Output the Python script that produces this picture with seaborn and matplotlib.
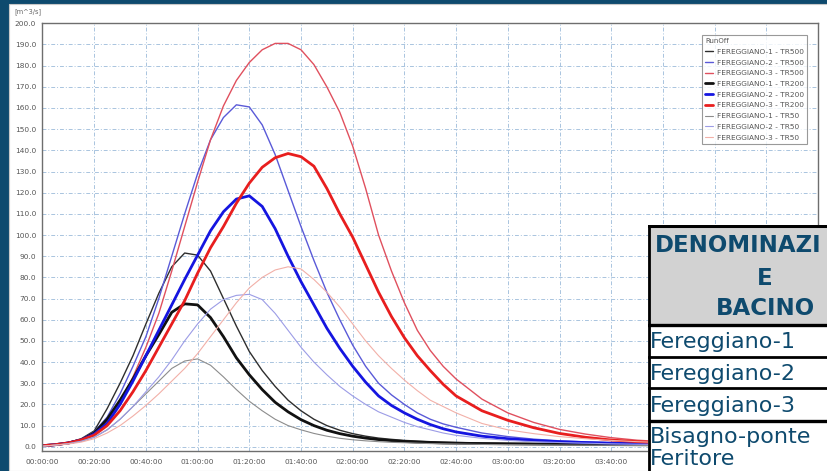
import matplotlib
matplotlib.use("Agg")
import matplotlib.pyplot as plt
from matplotlib.patches import Rectangle
from matplotlib.lines import Line2D
from matplotlib.ticker import MultipleLocator, FixedLocator, FuncFormatter
import seaborn as sns
import pandas as pd

# time axis in minutes
minutes = [0, 5, 10, 15, 20, 25, 30, 35, 40, 45, 50, 55, 60, 65, 70, 75, 80, 85, 90, 95,
           100, 105, 110, 115, 120, 125, 130, 135, 140, 145, 150, 155, 160,
           170, 180, 190, 200, 210, 220, 230, 240, 260, 280, 300]

# runoff [m3/s]
f1_tr500 = [0.5, 1.0, 2.0, 3.8, 7.5, 18, 30, 43, 58, 72.5, 85, 91.5, 90.5, 83, 70, 57, 45, 36, 28.5, 22,
            17, 13, 10, 7.8, 6.2, 5.0, 4.1, 3.5, 3.0, 2.7, 2.4, 2.2, 2.0,
            1.8, 1.6, 1.5, 1.4, 1.3, 1.2, 1.1, 1.0, 0.9, 0.8, 0.7]
f2_tr500 = [0.5, 1.0, 2.0, 3.6, 7, 14, 25, 38, 52, 70, 90, 110, 129, 145, 155.5, 161.5, 160.5, 152, 138, 121,
            104, 88, 73, 60, 48, 38, 30, 24.5, 20, 16, 13, 10.8, 9.2,
            6.5, 4.8, 3.6, 2.8, 2.3, 1.9, 1.6, 1.4, 1.1, 0.9, 0.7]
f3_tr500 = [0.5, 1.0, 2.0, 3.6, 6.5, 12, 21, 33, 47, 63, 83, 104, 125, 145, 161, 173, 181.5, 187.5, 190.5, 190.5,
            187.5, 180.5, 170, 158, 142, 122, 100, 83, 68, 55, 45.5, 38, 32,
            22.5, 16, 11.5, 8.2, 6, 4.3, 3.1, 2.4, 1.6, 1.1, 0.8]
f1_tr200 = [0.5, 1.0, 1.8, 3.2, 6.5, 13, 22, 32, 43, 53, 63.5, 67.5, 67, 61, 52, 42, 34, 27, 21, 16.5,
            12.8, 10, 7.8, 6.2, 5.0, 4.1, 3.4, 2.9, 2.5, 2.2, 2.0, 1.8, 1.7,
            1.5, 1.4, 1.3, 1.2, 1.1, 1.0, 0.95, 0.9, 0.8, 0.7, 0.6]
f2_tr200 = [0.5, 1.0, 1.8, 3.2, 6, 11, 20, 31, 43, 55, 67, 79, 90.5, 102, 111, 117, 118.5, 113.5, 103, 90,
            78, 67, 56, 46.5, 38, 30.5, 24, 19.5, 16, 13, 10.5, 8.5, 7,
            5, 3.8, 3, 2.4, 2, 1.7, 1.5, 1.3, 1, 0.8, 0.7]
f3_tr200 = [0.5, 1.0, 1.8, 3.2, 5.5, 10, 17, 26, 36, 47, 58, 69, 82, 94, 104, 115, 124.5, 132, 136.5, 138.5,
            137, 132.5, 122, 110, 99, 86, 73, 61.5, 51.5, 43, 36, 29.5, 24,
            17, 12.5, 9, 6.3, 4.5, 3.2, 2.4, 1.8, 1.2, 0.8, 0.6]
f1_tr50 = [0.3, 0.8, 1.5, 2.6, 4.5, 8, 13, 19, 25, 31, 37, 40.5, 41.5, 38.5, 33, 27, 21.5, 17, 13, 10,
           8, 6.3, 5, 4, 3.3, 2.8, 2.4, 2.1, 1.9, 1.7, 1.5, 1.4, 1.3,
           1.1, 1.0, 0.9, 0.8, 0.75, 0.7, 0.65, 0.6, 0.5, 0.45, 0.4]
f2_tr50 = [0.3, 0.8, 1.5, 2.6, 4.5, 8, 13, 19, 26, 33, 41, 50, 58, 65, 69.5, 71.5, 72, 69.5, 63, 55,
           47, 40, 34, 28.5, 24, 20, 16.5, 14, 11.5, 9.5, 8, 6.5, 5.4,
           4, 3, 2.4, 2, 1.7, 1.4, 1.2, 1.1, 0.9, 0.7, 0.6]
f3_tr50 = [0.3, 0.8, 1.3, 2.2, 3.8, 6.5, 10, 14.5, 19.5, 25, 31, 37, 44, 52, 60, 68, 75, 80, 83.5, 85,
           84, 79, 73, 66, 58, 50, 43, 37, 31.5, 26.5, 22, 19, 16,
           11, 8, 6.2, 4.8, 3.8, 3, 2.4, 2, 1.4, 1, 0.8]

labels = ["FEREGGIANO-1 - TR500", "FEREGGIANO-2 - TR500", "FEREGGIANO-3 - TR500",
          "FEREGGIANO-1 - TR200", "FEREGGIANO-2 - TR200", "FEREGGIANO-3 - TR200",
          "FEREGGIANO-1 - TR50", "FEREGGIANO-2 - TR50", "FEREGGIANO-3 - TR50"]
series = [f1_tr500, f2_tr500, f3_tr500, f1_tr200, f2_tr200, f3_tr200, f1_tr50, f2_tr50, f3_tr50]
colors = ["#2e2e2e", "#5a5ad8", "#e0505e",
          "#111111", "#1515e0", "#e81e1e",
          "#8c8c8c", "#9c9ce6", "#f2b0a8"]
widths = [1.0, 1.0, 1.0, 2.0, 2.0, 2.0, 0.8, 0.8, 0.8]

x_ticks = [0, 20, 40, 60, 80, 100, 120, 140, 160, 180, 200, 220]
table_rows = ["Fereggiano-1", "Fereggiano-2", "Fereggiano-3", "Bisagno-ponte", "Feritore"]

navy = "#0e4a6e"
W, H = 828, 471

sns.set_style("white")
fig = plt.figure(figsize=(W / 100, H / 100), dpi=100, facecolor=navy)
fig.patches.append(Rectangle((9 / W, 0), 1, (H - 4) / H, transform=fig.transFigure,
                             facecolor="white", edgecolor="#c8c8c8", lw=0.8, zorder=-10))

ax = fig.add_axes([42.5 / W, (H - 451) / H, (818 - 42.5) / W, (451 - 23.3) / H])
ax.set_facecolor("white")

df = pd.DataFrame({"t": minutes})
for name, vals, c, lw in zip(labels, series, colors, widths):
    df[name] = vals
    sns.lineplot(data=df, x="t", y=name, ax=ax, color=c, lw=lw, label=name, legend=False)

ax.set_xlim(0, 300)
ax.set_ylim(-2, 200)
ax.xaxis.set_major_locator(FixedLocator(x_ticks))
ax.xaxis.set_minor_locator(MultipleLocator(5))
ax.yaxis.set_major_locator(MultipleLocator(10))
ax.yaxis.set_minor_locator(MultipleLocator(5))
ax.xaxis.set_major_formatter(FuncFormatter(lambda v, p: f"{int(v) // 60:02d}:{int(v) % 60:02d}:00"))
ax.yaxis.set_major_formatter(FuncFormatter(lambda v, p: f"{v:.1f}"))
ax.set_xlabel("")
ax.set_ylabel("")
for v in range(20, 301, 20):
    ax.axvline(v, color="#a9c4df", lw=0.7, ls=(0, (4, 2, 1, 2)), zorder=0.5)
ax.grid(True, which="major", axis="y", color="#a9c4df", lw=0.7, ls=(0, (4, 2, 1, 2)))
ax.set_axisbelow(True)
ax.tick_params(which="major", direction="out", length=3, width=0.7, colors="#666666",
               labelsize=5.3, labelcolor="#555555", pad=1.5)
ax.tick_params(which="minor", direction="out", length=1.8, width=0.6, colors="#666666")
ax.tick_params(axis="x", pad=3)
for s in ax.spines.values():
    s.set_color("#6e6e6e")
    s.set_linewidth(1.0)

fig.text(14 / W, 1 - 12 / H, "[m^3/s]", fontsize=4.8, color="#666666", va="center")

handles = [Line2D([], [], color=c, lw=lw) for c, lw in zip(colors, widths)]
leg = ax.legend(handles, labels, title="RunOff", loc="upper right", bbox_to_anchor=(0.986, 0.973),
                fontsize=5.3, title_fontsize=5.0, frameon=True, fancybox=False, edgecolor="#808080",
                handlelength=1.1, handletextpad=0.5, labelspacing=0.62, borderpad=0.45,
                borderaxespad=0)
leg._legend_box.align = "left"
leg.get_title().set_color("#555555")
for t in leg.get_texts():
    t.set_color("#555555")
leg.get_frame().set_linewidth(0.8)

# table overlay (pixel coords)
tab = fig.add_axes([648 / W, 0, (W - 648) / W, (H - 225) / H])
tab.set_xlim(648, W)
tab.set_ylim(H, 225)
tab.axis("off")
tab.add_patch(Rectangle((648, 225), 200, 100, facecolor="#d2d2d2", edgecolor="none"))
tab.add_patch(Rectangle((648, 325), 200, 160, facecolor="white", edgecolor="none"))
tab.plot([649.5, 649.5], [225, H], color="black", lw=2)
tab.plot([648, W], [226.5, 226.5], color="black", lw=2.2)
for yy, lw in [(325, 2.4), (357, 2), (388.5, 2), (421.5, 2.4)]:
    tab.plot([648, W], [yy, yy], color="black", lw=lw)
tab.text(655, 251.7, "DENOMINAZI", fontsize=16.5, fontweight="bold", color=navy, va="baseline")
tab.text(765, 285, "E", fontsize=16.5, fontweight="bold", color=navy, va="baseline", ha="center")
tab.text(765, 315, "BACINO", fontsize=16.5, fontweight="bold", color=navy, va="baseline", ha="center")
for name, base in zip(table_rows, [348.3, 380, 412.5, 443.5, 465]):
    tab.text(650, base, name, fontsize=16, color=navy, va="baseline")

fig.savefig("out.png", dpi=100, facecolor=navy)
